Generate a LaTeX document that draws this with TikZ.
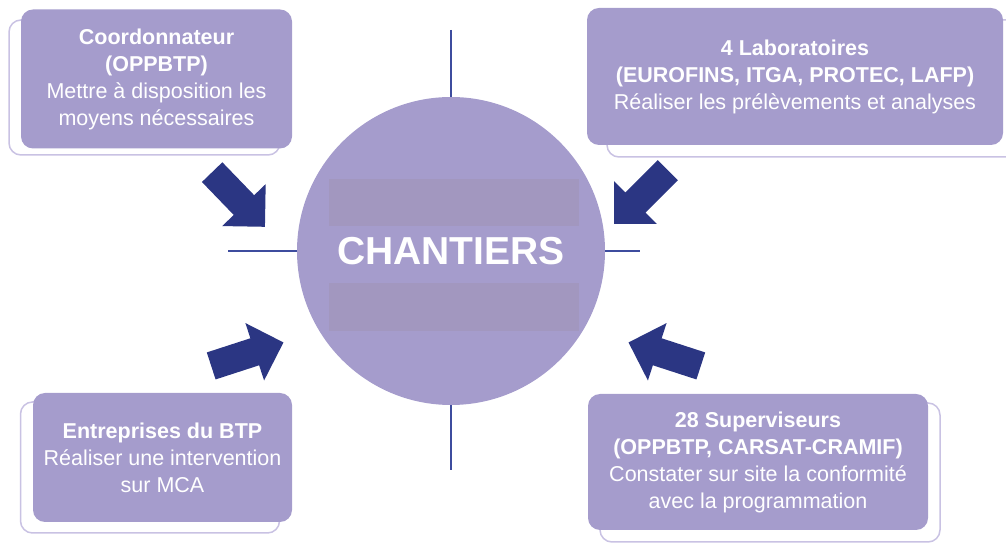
\documentclass[tikz,border=0pt]{standalone}
\usepackage{fontspec}
\setmainfont{Liberation Sans}
\usetikzlibrary{shapes.arrows}

\definecolor{lilas}{HTML}{A59CCC}
\definecolor{lilasgris}{HTML}{A297BF}
\definecolor{lilasclair}{HTML}{C9C2E3}
\definecolor{marine}{HTML}{2B3683}
\definecolor{trait}{HTML}{3D4C9E}

\begin{document}
\begin{tikzpicture}[
  x=1pt, y=1pt,
  acteur/.style={
    rounded corners=12pt,
    fill=lilas,
    text=white,
    align=center,
    inner sep=0pt,
    font=\fontsize{21.5}{27}\selectfont
  },
  cadre/.style={
    rounded corners=12pt,
    draw=lilasclair,
    fill=white,
    line width=1.5pt
  },
  fleche/.style={
    single arrow,
    fill=marine,
    anchor=tail,
    inner sep=0pt,
    inner ysep=14pt,
    single arrow head extend=16pt,
    single arrow head indent=0pt,
    minimum height=76pt
  },
  axe/.style={
    trait,
    line width=2pt
  },
]
\useasboundingbox (0,0) rectangle (1006,543);

% cadres
\node[cadre, minimum width=271pt, minimum height=135pt] (coordcadre) at (144.5,455.5) {};
\node[cadre, minimum width=416pt, minimum height=137pt] (labocadre) at (815,454.5) {};
\node[cadre, minimum width=259pt, minimum height=131pt] (btpcadre) at (150,75.5) {};
\node[cadre, minimum width=340pt, minimum height=139pt] (supcadre) at (770,70.5) {};

% acteurs
\node[acteur, minimum width=271pt, minimum height=139pt] (coord) at (156.5,464)
  {\textbf{Coordonnateur}\\\textbf{(OPPBTP)}\\Mettre à disposition les\\moyens nécessaires};
\node[acteur, minimum width=416pt, minimum height=137pt] (labo) at (795,466.5)
  {\textbf{4 Laboratoires}\\\textbf{(EUROFINS, ITGA, PROTEC, LAFP)}\\Réaliser les prélèvements et analyses};
\node[acteur, minimum width=259pt, minimum height=129pt] (btp) at (162.5,85.5)
  {\textbf{Entreprises du BTP}\\Réaliser une intervention\\sur MCA};
\node[acteur, minimum width=340pt, minimum height=136pt] (sup) at (758,81)
  {\textbf{28 Superviseurs}\\\textbf{(OPPBTP, CARSAT-CRAMIF)}\\Constater sur site la conformité\\avec la programmation};

% chantiers
\node[circle, fill=lilas, minimum size=308pt, inner sep=0pt, text=white,
  font=\fontsize{39}{42}\selectfont\bfseries] (chantiers) at (451,292) {CHANTIERS};
\fill[lilasgris] ([shift={(-122,25)}]chantiers.center) rectangle ++(250,47);
\fill[lilasgris] ([shift={(-122,-80)}]chantiers.center) rectangle ++(250,48);

\coordinate (haut) at (451,513);
\coordinate (bas) at (451,73);
\coordinate (gauche) at (228,292);
\coordinate (droite) at (640,292);
\draw[axe] (haut) -- (chantiers.north);
\draw[axe] (chantiers.south) -- (bas);
\draw[axe] (gauche) -- (chantiers.west);
\draw[axe] (chantiers.east) -- (droite);

% fleches
\node[fleche, rotate=-46] (flcoord) at (212,371) {};
\node[fleche, rotate=225] (fllabo) at (668,373) {};
\node[fleche, rotate=18] (flbtp) at (211,177) {};
\node[fleche, rotate=162] (flsup) at (701,177) {};
\end{tikzpicture}
\end{document}
